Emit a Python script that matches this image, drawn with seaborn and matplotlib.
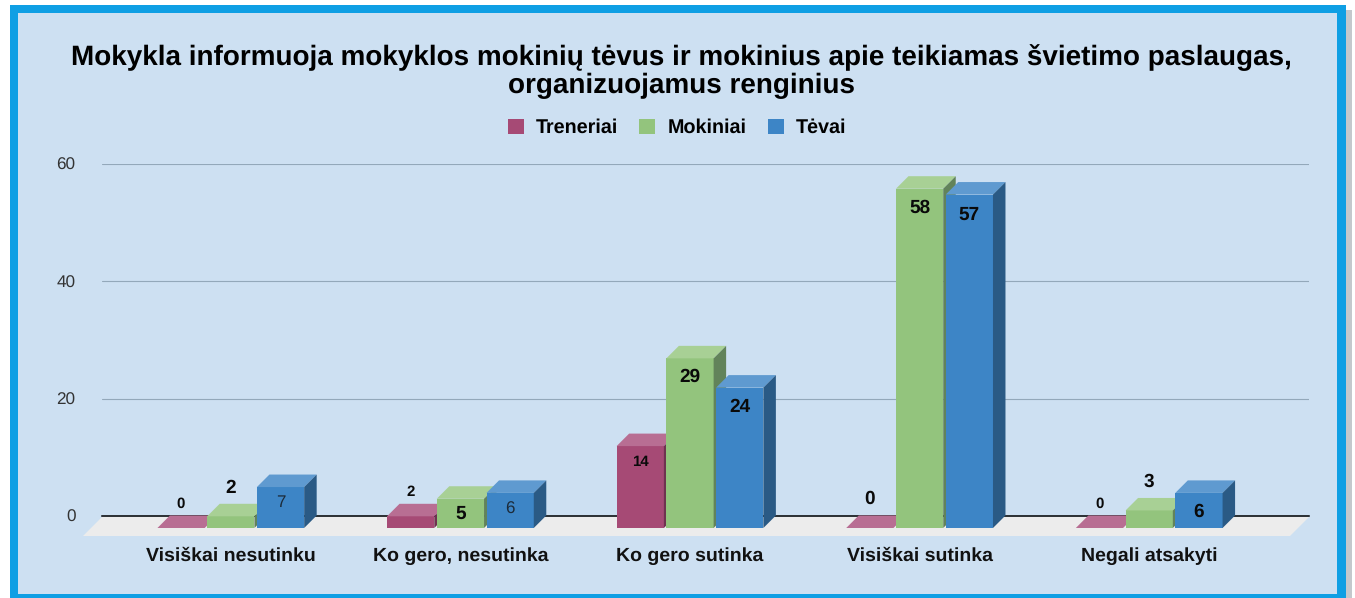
# Grouped 3D style bar chart, survey answers
import numpy as np
import pandas as pd
import matplotlib
matplotlib.use("Agg")
import matplotlib.pyplot as plt
from matplotlib.patches import Rectangle, Polygon, Patch
import seaborn as sns

# Data
categories = ["Visiškai nesutinku", "Ko gero, nesutinka", "Ko gero sutinka",
              "Visiškai sutinka", "Negali atsakyti"]
series_names = ["Treneriai", "Mokiniai", "Tėvai"]
treneriai = [0, 2, 14, 0, 0]
mokiniai = [2, 5, 29, 58, 3]
tevai = [7, 6, 24, 57, 6]
y_ticks = [0, 20, 40, 60]
title = ("Mokykla informuoja mokyklos mokinių tėvus ir mokinius apie teikiamas "
         "švietimo paslaugas,\norganizuojamus renginius")

df = pd.DataFrame({
    "atsakymas": categories * 3,
    "grupe": np.repeat(series_names, 5),
    "kiekis": treneriai + mokiniai + tevai,
})

# Colours: front, top, side
front = ["#a64a75", "#93c47d", "#3d85c6"]
top = ["#b86e93", "#a8d095", "#5f9ad0"]
side = ["#6f3250", "#62835a", "#2a5a85"]

# Label style per bar: (font px, bold, offset from bar top in px)
label_style = [
    [(15, True, 24), (15, True, 24), (15, True, -16), (19, True, 29), (15, True, 24)],
    [(19, True, 28), (19, True, -15), (19, True, -19), (19, True, -19), (19, True, 29)],
    [(17, False, -16), (17, False, -17), (19, True, -19), (19, True, -20), (19, True, -19)],
]

W, H = 1355, 598
sns.set_style("white")
plt.rcParams["font.family"] = ["Liberation Sans", "DejaVu Sans"]
plt.rcParams["text.hinting"] = "none"

fig = plt.figure(figsize=(W / 100, H / 100), dpi=100, facecolor="white")


def fx(x):
    return x / W


def fy(y):
    return 1 - y / H


# Frame and panel
for x0, y1, w, h, col in [(1346, 598, 6, 588, "#c4c8cc"),
                          (10, 598, 1336, 593, "#0f9fe4"),
                          (18, 594, 1319, 581, "#cde0f2")]:
    fig.patches.append(Rectangle((fx(x0), fy(y1)), w / W, h / H, transform=fig.transFigure,
                                 fc=col, ec="none", figure=fig, zorder=-5))

# Back plane with grid lines
ax = fig.add_axes([fx(102), fy(516), 1207 / W, 352 / H], zorder=1)
ax.patch.set_alpha(0)
ax.set_ylim(0, 60)
ax.set_xlim(0, 1)
ax.set_yticks(y_ticks)
ax.set_xticks([])
ax.grid(axis="y", color="#93a8ba", lw=0.8)
ax.set_axisbelow(True)
ax.tick_params(axis="y", length=0, pad=19, labelsize=12.3, labelcolor="#333333")
for s in ["top", "left", "right"]:
    ax.spines[s].set_visible(False)
ax.spines["bottom"].set_color("black")
ax.spines["bottom"].set_linewidth(1.1)
ax.spines["bottom"].set_zorder(3)

# Floor
floor_px = [(83, 536), (102, 517), (1309, 517), (1290, 536)]
ax.add_patch(Polygon([(fx(x), fy(y)) for x, y in floor_px], closed=True,
                     transform=fig.transFigure, fc="#ececec", ec="none",
                     clip_on=False, zorder=2))

# Front faces of bars, shifted down and left of the back plane
bax = fig.add_axes([fx(116), fy(528), 1148 / W, 351 / H], zorder=2)
bax.patch.set_alpha(0)
sns.barplot(data=df, x="atsakymas", y="kiekis", hue="grupe", hue_order=series_names,
            palette=front, saturation=1, width=0.65, gap=0.05, errorbar=None,
            legend=False, linewidth=0, ax=bax)
bax.set_ylim(0, 60)
bax.set_xlim(-0.5, 4.5)
bax.set_xlabel("")
bax.set_ylabel("")
bax.set_yticks([])
bax.tick_params(axis="x", length=0, pad=13.5)
bax.set_xticks(range(len(categories)))
bax.set_xticklabels(categories, fontsize=14, fontweight="bold", color="#111111")
sns.despine(ax=bax, left=True, bottom=True)

# Depth in data units
dx = 12.5 / (1148 / 5)
dy = 12.5 / (351 / 60)

for s, cont in enumerate(bax.containers):
    for c, bar in enumerate(cont):
        x0, w, h = bar.get_x(), bar.get_width(), bar.get_height()
        z = 3 + c * 10 + s * 2
        bar.set_zorder(z)
        bar.set_clip_on(False)
        x1 = x0 + w
        bax.add_patch(Polygon([(x0, h), (x0 + dx, h + dy), (x1 + dx, h + dy), (x1, h)],
                              closed=True, fc=top[s], ec="none", zorder=z, clip_on=False))
        if h > 0:
            bax.add_patch(Polygon([(x1, 0), (x1 + dx, dy), (x1 + dx, h + dy), (x1, h)],
                                  closed=True, fc=side[s], ec="none", zorder=z, clip_on=False))
        px, bold, off = label_style[s][c]
        bax.annotate(str(int(h)), xy=(x0 + w / 2, h), xytext=(0, off), xycoords="data",
                     textcoords="offset pixels", ha="center", va="center",
                     fontsize=px * 0.72, fontweight="bold" if bold else "normal",
                     color="#0a0a0a" if bold else "#1c2b3a", zorder=100, annotation_clip=False)

# Title and legend
fig.text(fx(681), fy(71.5), title, ha="center", va="center", fontsize=20.1,
         fontweight="bold", color="black", linespacing=1.05)
handles = [Patch(fc=c, ec="none", label=n) for c, n in zip(front, series_names)]
fig.legend(handles=handles, ncol=3, loc="center", bbox_to_anchor=(fx(677), fy(128)),
           frameon=False, handlelength=0.81, handleheight=0.81, handletextpad=0.6,
           columnspacing=1.1, labelcolor="black", prop={"weight": "bold", "size": 14.2})

fig.savefig("out.png", dpi=100, facecolor="white")
